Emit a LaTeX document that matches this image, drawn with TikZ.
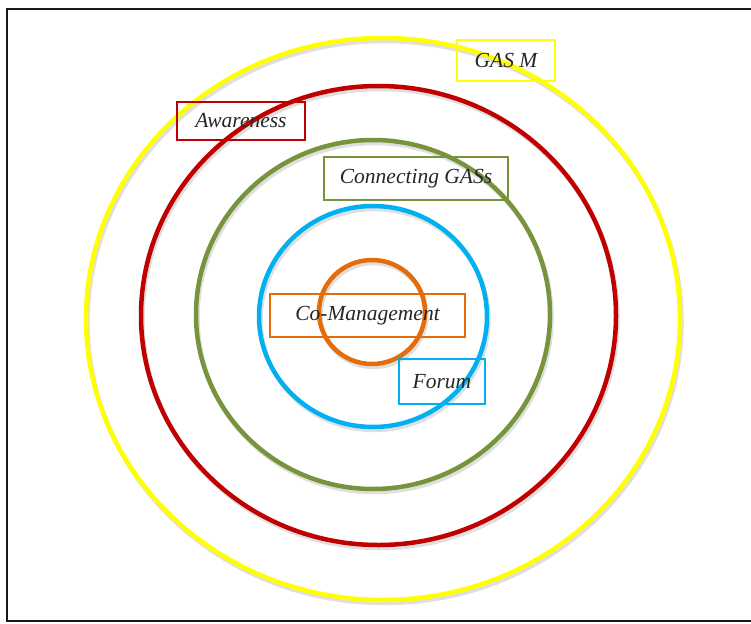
\documentclass[tikz,border=0pt]{standalone}
\usepackage{fontspec}
\setmainfont{Liberation Serif}
\definecolor{ringyellow}{RGB}{255,255,0}
\definecolor{ringred}{RGB}{192,0,0}
\definecolor{ringgreen}{RGB}{119,147,60}
\definecolor{ringblue}{RGB}{0,176,240}
\definecolor{ringorange}{RGB}{228,108,10}
\begin{document}
\begin{tikzpicture}[x=1pt,y=-1pt,
  ring/.style={line width=4.5pt},
  ringshadow/.style={line width=4.5pt,black!25,opacity=0.5},
  labelbox/.style={draw,line width=1.5pt,rectangle,inner sep=0pt,
    text=black!85,font=\fontsize{21.5}{24}\selectfont\itshape}]
  \useasboundingbox (0,0) rectangle (751,623);
  \draw[line width=2.2pt,black!90] (7,9) rectangle (760,621);

  \coordinate (gasm) at (383,319);
  \coordinate (aware) at (378.5,315.5);
  \coordinate (conn) at (373,314.5);
  \coordinate (forum) at (373,316.5);
  \coordinate (comgmt) at (372,312);

  \draw[ringshadow] ([shift={(1.5,3)}]gasm) ellipse [x radius=297pt,y radius=281pt];
  \draw[ringshadow] ([shift={(1.5,3)}]aware) ellipse [x radius=237.5pt,y radius=229.5pt];
  \draw[ringshadow] ([shift={(1.5,3)}]conn) ellipse [x radius=177pt,y radius=174.5pt];
  \draw[ringshadow] ([shift={(1.5,3)}]forum) ellipse [x radius=114pt,y radius=110.5pt];
  \draw[ringshadow] ([shift={(1.5,3)}]comgmt) ellipse [x radius=53pt,y radius=52pt];

  \draw[ring,ringyellow] (gasm) ellipse [x radius=297pt,y radius=281pt];
  \draw[ring,ringred] (aware) ellipse [x radius=237.5pt,y radius=229.5pt];
  \draw[ring,ringgreen] (conn) ellipse [x radius=177pt,y radius=174.5pt];
  \draw[ring,ringblue] (forum) ellipse [x radius=114pt,y radius=110.5pt];
  \draw[ring,ringorange] (comgmt) ellipse [x radius=53pt,y radius=52pt];

  \node[labelbox,draw=ringyellow,minimum width=98pt,minimum height=41pt] (gasmbox) at (506,60.5) {GAS M};
  \node[labelbox,draw=ringred,minimum width=128pt,minimum height=38pt] (awarebox) at (241,121) {Awareness};
  \node[labelbox,draw=ringgreen,minimum width=184pt,minimum height=43pt] (connbox) at (416,178.5) {Connecting GASs};
  \node[labelbox,draw=ringorange,minimum width=195pt,minimum height=43pt] (comgmtbox) at (367.5,315.5) {Co-Management};
  \node[labelbox,draw=ringblue,minimum width=86pt,minimum height=45pt] (forumbox) at (442,381.5) {Forum};
\end{tikzpicture}
\end{document}
